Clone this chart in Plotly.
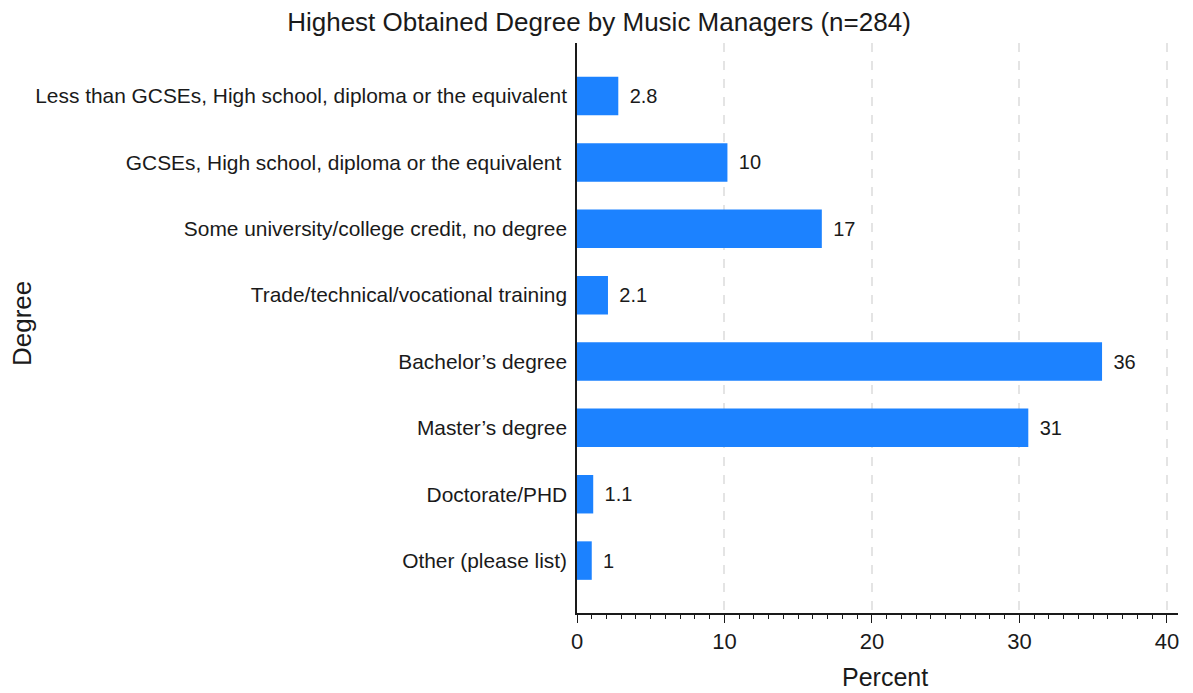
import plotly.graph_objects as go

categories = [
    "Less than GCSEs, High school, diploma or the equivalent",
    "GCSEs, High school, diploma or the equivalent\u00a0",
    "Some university/college credit, no degree",
    "Trade/technical/vocational training",
    "Bachelor\u2019s degree",
    "Master\u2019s degree",
    "Doctorate/PHD",
    "Other (please list)",
]
percent = [2.8, 10.2, 16.6, 2.1, 35.6, 30.6, 1.1, 1.0]
value_labels = ["2.8", "10", "17", "2.1", "36", "31", "1.1", "1"]
x_ticks = [0, 10, 20, 30, 40]

FONT = "Liberation Sans, Arial, sans-serif"
INK = "#1a1a1a"

W, H = 1193, 693
L = 577
T = 43
R = W - 1178
B = H - 613
plot_w = W - L - R
plot_h = H - T - B

fig = go.Figure()
fig.add_trace(go.Bar(
    y=categories,
    x=percent,
    orientation="h",
    width=0.58,
    marker=dict(color="#1c82ff", line=dict(width=0)),
    text=value_labels,
    texttemplate="\u2004\u200a%{text}",
    textposition="outside",
    textfont=dict(size=20, color=INK, family=FONT),
    cliponaxis=False,
    hoverinfo="x+y",
))

fig.update_layout(
    width=W, height=H,
    paper_bgcolor="white", plot_bgcolor="white",
    margin=dict(l=L, r=R, t=T, b=B, autoexpand=False),
    showlegend=False,
    font=dict(family=FONT, color=INK),
    title=dict(
        text="Highest Obtained Degree by Music Managers (n=284)",
        x=599 / W, xanchor="center", y=1 - 22 / H, yanchor="middle",
        font=dict(size=26, family=FONT, color=INK),
    ),
    annotations=[
        dict(
            text="Degree", textangle=-90,
            xref="paper", yref="paper",
            x=(22 - L) / plot_w, y=(613 - 324) / plot_h,
            xanchor="center", yanchor="middle", showarrow=False,
            font=dict(size=26, family=FONT, color=INK),
        ),
        dict(
            text="Percent",
            xref="paper", yref="paper",
            x=(885 - L) / plot_w, y=-(677 - 613) / plot_h,
            xanchor="center", yanchor="middle", showarrow=False,
            font=dict(size=25, family=FONT, color=INK),
        ),
    ],
)

fig.update_xaxes(
    automargin=False,
    range=[0, 40.75],
    tickvals=x_ticks,
    ticks="outside", ticklen=8, tickwidth=1.3, tickcolor=INK,
    tickfont=dict(size=22, family=FONT, color=INK),
    showline=True, linecolor=INK, linewidth=1.5,
    showgrid=True, gridcolor="#e4e4e4", griddash="dash", gridwidth=1.5,
    zeroline=False,
    minor=dict(dtick=1, ticks="outside", ticklen=4, tickcolor=INK, showgrid=False),
)

fig.update_yaxes(
    automargin=False,
    categoryorder="array", categoryarray=categories,
    range=[7.79, -0.8],
    ticks="", ticklabelstandoff=4,
    tickfont=dict(size=20.9, family=FONT, color=INK),
    showline=True, linecolor=INK, linewidth=1.5,
    showgrid=False, zeroline=False,
)

fig.write_html(
    "out.html",
    config={"displayModeBar": False},
    post_script="document.body.style.margin='0px';",
)
